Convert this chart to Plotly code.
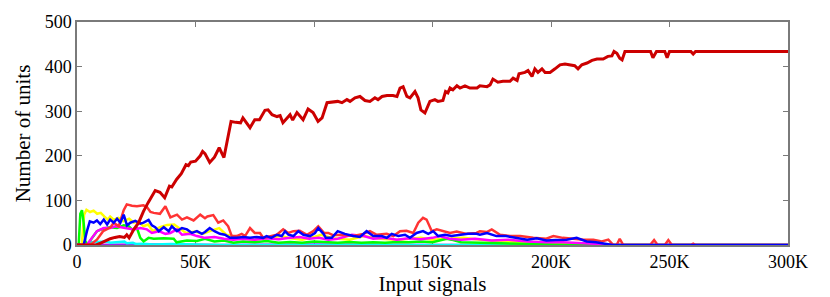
import plotly.graph_objects as go

# x in thousands of input signals, y = number of units
dark_red = [(0,0),(3,0),(6,0),(8,0),(10,4),(12,9),(14,14),(16,17),(18,19),(20,17),(21,23),(22,16),(24,35),(26,50),(28,75),(30,95),(32,115),(33,122),(35,118),(37,106),(39,132),(40,130),(42,147),(44,160),(46,180),(47,178),(48,186),(50,188),(52,200),(53,210),(54,205),(56,185),(58,197),(60,218),(62,196),(63,221),(65,277),(67,275),(69,274),(70,285),(72,270),(73,263),(75,281),(77,281),(79.3,302),(80.6,303),(82.3,292),(84.4,288),(85.7,290),(86.9,274),(89.9,292),(91,280),(92.8,297),(95.4,281),(97.5,305),(99.6,297),(101.7,277),(103.4,285),(105.5,319),(108,320),(110,322),(111.8,319),(113.9,326),(115.2,322),(117.3,330),(119.4,333),(121.5,324),(123.6,322),(125.7,330),(127,326),(128.7,333),(130.8,335),(133.3,335),(135,333),(136.3,352),(137.6,355),(139.2,333),(140.5,330),(142.6,344),(143.9,330),(145.1,303),(146.8,296),(148.9,322),(151,326),(152.3,322),(154.4,324),(155.5,344),(156.5,341),(157.4,352),(158.6,348),(160.3,357),(161.6,352),(163.7,357),(165.8,352),(168.8,352),(170,357),(173,355),(174.3,359),(175.5,372),(177.6,365),(179.7,367),(182.7,367),(184,374),(185.7,369),(186.5,384),(189,387),(190.3,391),(192,378),(193.2,395),(194.5,387),(196.2,395),(197.5,387),(199.6,387),(201.7,395),(203.8,404),(205.9,406),(208.9,404),(210,402),(211.4,395),(213,404),(215.2,408),(217.3,414),(219.4,417),(222,417),(224,423),(225.7,424),(226.6,434),(227.8,430),(229,419),(230,415),(231.2,434),(242,434),(243,420),(244.5,434),(248,434),(249,420),(250,434),(259,434),(260,428),(261,434),(300,434)]

red = [(0,0),(5.5,0),(8.4,12),(11,31),(14,39),(15.5,50),(17.6,42),(19.7,78),(21,91),(23.2,88),(25.3,87),(28,89),(29.5,85),(31,74),(32.4,72),(35,70),(37.3,87),(39.4,62),(42.2,68),(44.3,57),(46.4,62),(49.2,55),(52,68),(54,60),(55,64),(57.5,67),(59.6,50),(61.7,55),(63.8,42),(65.3,20),(67.4,20),(69.5,25),(70.9,20),(73,38),(75,27),(77.2,27),(78.6,16),(81.4,20),(84.3,23),(87,35),(89.2,27),(91.3,31),(94,32),(97,23),(99.7,31),(101.8,42),(104.3,27),(106,27),(108,22),(112,23),(116.6,20),(120.8,25),(123.6,31),(126.5,23),(130.7,25),(133.5,20),(136.3,31),(139,32),(141.9,27),(144,50),(146,61),(147.5,57),(149.7,31),(151.8,35),(154.6,31),(157.4,27),(160.2,30),(164.4,25),(168.6,27),(170,31),(172.9,29),(175,35),(178.5,23),(182.7,20),(187,20),(192.5,16),(198,14),(201,20),(205,16),(209.4,14),(213.6,12),(217.9,12),(221.4,8),(224.2,12),(226.3,0),(227.7,0),(229,14),(230.5,0),(241.8,0),(243.5,11),(245,0),(248,0),(249.5,11),(251,0),(259,0),(260,3),(261,0),(300,0)]

blue = [(0,0),(2.8,0),(4.2,31),(5.4,53),(7,50),(8.4,55),(9.8,47),(11.3,57),(12.7,46),(14,57),(15.5,50),(16.9,59),(18.3,50),(19.7,68),(21.1,44),(22.5,50),(24.6,54),(26.7,48),(28.1,50),(30.2,56),(31.6,44),(33,40),(34.5,31),(36.6,40),(38.7,31),(40,42),(42.2,31),(44.3,38),(46.4,35),(48.5,27),(50.6,31),(52.7,25),(54,29),(56,38),(58,31),(60.3,25),(62.4,23),(64.6,16),(67.4,16),(70.2,18),(73,16),(75.8,18),(78.6,16),(80,20),(82,16),(84.3,23),(86.4,20),(87.8,31),(89.2,23),(91.3,20),(93.4,31),(95.5,23),(98.3,20),(100.4,27),(101.8,38),(104,25),(105,16),(107.5,16),(110,31),(113,25),(116.6,20),(119.4,18),(122.2,31),(125,20),(128.6,20),(130.7,16),(132.8,25),(135.6,20),(138.4,23),(140.5,16),(143.3,27),(146,31),(148.2,25),(150.3,31),(152.4,20),(155.3,23),(158,20),(161.6,23),(165,25),(168.6,25),(170,23),(173,27),(177,20),(181,20),(185.5,16),(190,12),(194,15),(198,10),(202,11),(206.6,12),(210.8,16),(215,8),(219,6),(223.5,3),(226,0),(300,0)]

yellow = [(0,0),(2,0),(3,68),(4,79),(5.5,74),(7,77),(8.5,70),(10,72),(11.5,64),(13,57),(14,64),(15.5,57),(17.5,61),(19.5,53),(22,59),(24,50),(26,53),(28,42),(30,46),(32,31),(35,40),(38,45),(41,46),(44,35),(46,27),(50,30),(53,25),(56,31),(58,35),(60,38),(63,23),(66,20),(70,15),(75,12),(80,15),(86,20),(90,15),(95,12),(100,18),(103,23),(108,15),(115,12),(121,20),(128,14),(135,12),(140,14),(145,16),(150,12),(155,14),(163,16),(170,12),(180,8),(190,6),(200,4),(210,2),(220,0),(300,0)]

green = [(0,0),(0.7,0),(1.4,70),(2.1,78),(2.8,50),(3.5,8),(4.5,2),(5.5,10),(7,20),(8.4,31),(11.3,37),(14,40),(16.9,38),(19.7,44),(21.8,42),(23.2,35),(25.3,38),(26.7,16),(28.1,8),(30.2,16),(32.4,14),(36.6,15),(40.8,14),(42,6),(46.4,10),(50.6,9),(54,14),(58,8),(62,10),(66,5),(70,8),(75,6),(80,9),(85,5),(90,7),(95,5),(100,8),(105,6),(110,5),(115,7),(120,5),(125,6),(130,5),(135,7),(140,6),(145,8),(150,6),(156,14),(158,12),(162,6),(170,5),(180,4),(190,2),(200,1),(210,0),(300,0)]

magenta = [(0,0),(4.2,0),(6.3,16),(8.4,31),(11.3,38),(14,38),(16.2,42),(18.3,40),(21.1,37),(23.9,35),(26.7,38),(29.5,35),(31.6,27),(34.5,31),(37.3,25),(39.4,27),(42.2,35),(44.3,23),(47.8,25),(50.6,20),(54,16),(58,18),(62,14),(66,12),(70,14),(75,12),(80,15),(85,13),(90,16),(94,18),(98,14),(102,16),(106,12),(110,14),(116,23),(121,20),(125,14),(130,16),(135,12),(140,15),(145,13),(150,16),(153,20),(157,14),(162,12),(168,14),(175,10),(182,12),(190,8),(198,6),(205,6),(212,5),(218,3),(224,0),(300,0)]

cyan = [(0,0),(4,0),(5.5,6),(8.4,7),(10,8),(12.7,8),(14,5),(17,7),(20,8),(21,4),(23.6,5),(25,2),(28,3),(32,1),(40,2),(50,1),(60,0),(300,0)]

purple = [(0,0),(30,1),(60,0),(100,1),(150,0),(200,0),(300,0)]

x_tick_vals = [0, 50, 100, 150, 200, 250, 300]
x_tick_text = ["0", "50K", "100K", "150K", "200K", "250K", "300K"]
y_tick_vals = [0, 100, 200, 300, 400, 500]

series = [
    (purple, "#A020F0", 2.5),
    (cyan, "#00FFFF", 2.5),
    (yellow, "#FFFF00", 2.5),
    (green, "#00FF00", 2.5),
    (magenta, "#FF00FF", 2.5),
    (red, "#FF3333", 2.5),
    (blue, "#0000FF", 2.5),
    (dark_red, "#CC0000", 3),
]

fig = go.Figure()
for pts, col, w in series:
    xs = [p[0] for p in pts]
    ys = [p[1] for p in pts]
    fig.add_trace(go.Scatter(x=xs, y=ys, mode="lines",
                             line=dict(color=col, width=w),
                             showlegend=False, hoverinfo="skip"))

font = "Liberation Serif, Times New Roman, serif"
axis_common = dict(showgrid=False, zeroline=False, showline=True,
                   linecolor="#7a7a7a", linewidth=1.5, mirror="ticks",
                   ticks="inside", ticklen=5, tickcolor="#7a7a7a",
                   tickfont=dict(family=font, size=18, color="black"),
                   layer="below traces", automargin=False)
fig.update_layout(
    width=830, height=297,
    margin=dict(l=69, r=50, t=14, b=60),
    paper_bgcolor="white", plot_bgcolor="white",
    xaxis=dict(range=[0, 300], tickvals=x_tick_vals, ticktext=x_tick_text,
               title=dict(text="Input signals", font=dict(family=font, size=21, color="black"), standoff=0),
               **axis_common),
    yaxis=dict(range=[0, 500], tickvals=y_tick_vals,
               title=dict(text="Number of units", font=dict(family=font, size=21, color="black"), standoff=8),
               **axis_common),
)
fig.write_html("out.html")
